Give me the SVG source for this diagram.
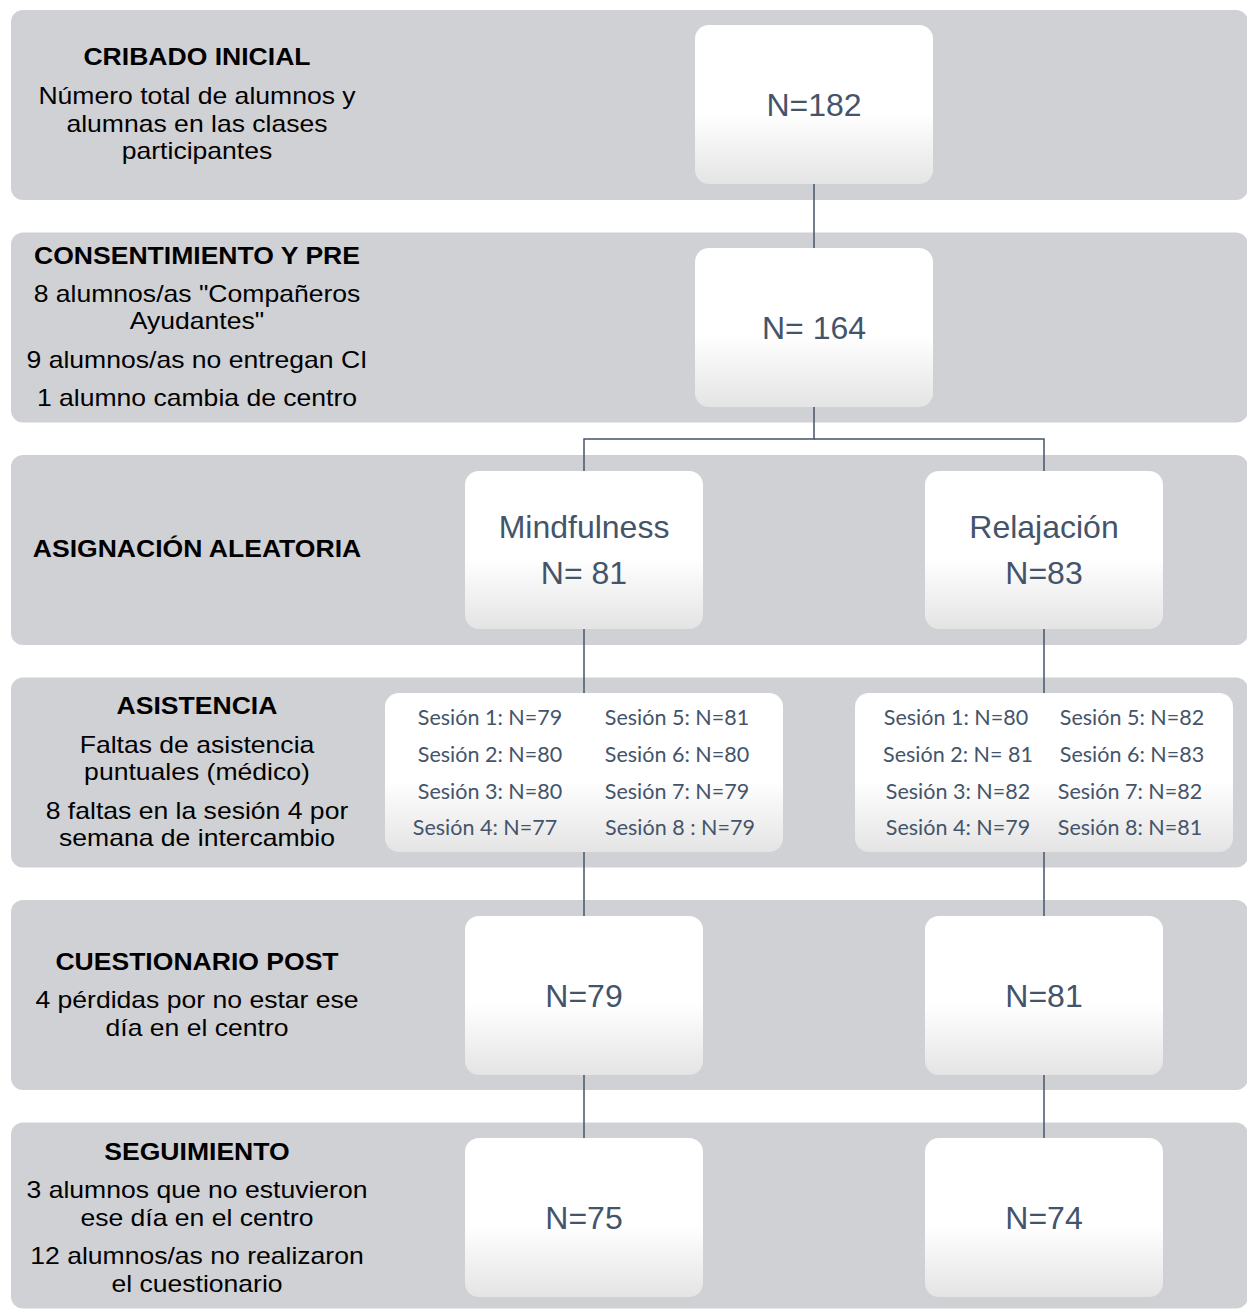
<svg xmlns="http://www.w3.org/2000/svg" width="1247" height="1310" viewBox="0 0 1247 1310">
  <defs>
    <linearGradient id="boxFill" x1="0" y1="0" x2="0" y2="1">
      <stop offset="0" stop-color="#FFFFFF"/>
      <stop offset="0.55" stop-color="#FFFFFF"/>
      <stop offset="1" stop-color="#E4E4E5"/>
    </linearGradient>
    <style>
      .band { fill: #D0D1D5; }
      .box { fill: url(#boxFill); }
      .lbl { font-family: "Liberation Sans", Arial, sans-serif; font-size: 23px; fill: #000000; text-anchor: middle; }
      .hd { font-weight: bold; }
      .n { font-family: "Liberation Sans", Arial, sans-serif; font-size: 32px; fill: #44546A; text-anchor: middle; }
      .s { font-family: Lato, "Noto Sans", sans-serif; font-size: 21.5px; fill: #44546A; text-anchor: middle; }
      .link { stroke: #44546A; stroke-width: 1.5; fill: none; }
    </style>
  </defs>

  <rect width="1247" height="1310" fill="#FFFFFF"/>

  <!-- stage bands -->
  <g id="bands">
    <rect class="band" x="11" y="10" width="1237" height="190" rx="12"/>
    <rect class="band" x="11" y="232.5" width="1237" height="190" rx="12"/>
    <rect class="band" x="11" y="455" width="1237" height="190" rx="12"/>
    <rect class="band" x="11" y="677.5" width="1237" height="190" rx="12"/>
    <rect class="band" x="11" y="900" width="1237" height="190" rx="12"/>
    <rect class="band" x="11" y="1122.5" width="1237" height="186" rx="12"/>
  </g>

  <!-- stage descriptions -->
  <g id="stage-labels" transform="translate(197,0) scale(1.155,1) translate(-197,0)">
    <text class="lbl hd" x="197" y="65">CRIBADO INICIAL</text>
    <text class="lbl" x="197" y="104">Número total de alumnos y</text>
    <text class="lbl" x="197" y="132">alumnas en las clases</text>
    <text class="lbl" x="197" y="159">participantes</text>

    <text class="lbl hd" x="197" y="264">CONSENTIMIENTO Y PRE</text>
    <text class="lbl" x="197" y="302">8 alumnos/as "Compañeros</text>
    <text class="lbl" x="197" y="329">Ayudantes"</text>
    <text class="lbl" x="197" y="368">9 alumnos/as no entregan CI</text>
    <text class="lbl" x="197" y="406">1 alumno cambia de centro</text>

    <text class="lbl hd" x="197" y="557">ASIGNACIÓN ALEATORIA</text>

    <text class="lbl hd" x="197" y="714">ASISTENCIA</text>
    <text class="lbl" x="197" y="753">Faltas de asistencia</text>
    <text class="lbl" x="197" y="780">puntuales (médico)</text>
    <text class="lbl" x="197" y="819">8 faltas en la sesión 4 por</text>
    <text class="lbl" x="197" y="846">semana de intercambio</text>

    <text class="lbl hd" x="197" y="970">CUESTIONARIO POST</text>
    <text class="lbl" x="197" y="1008">4 pérdidas por no estar ese</text>
    <text class="lbl" x="197" y="1036">día en el centro</text>

    <text class="lbl hd" x="197" y="1160">SEGUIMIENTO</text>
    <text class="lbl" x="197" y="1198">3 alumnos que no estuvieron</text>
    <text class="lbl" x="197" y="1226">ese día en el centro</text>
    <text class="lbl" x="197" y="1264">12 alumnos/as no realizaron</text>
    <text class="lbl" x="197" y="1292">el cuestionario</text>
  </g>

  <!-- connectors -->
  <g id="connectors">
    <line class="link" x1="814" y1="184" x2="814" y2="248"/>
    <polyline class="link" points="814,407 814,439 584,439 584,471"/>
    <polyline class="link" points="814,439 1044,439 1044,471"/>
    <line class="link" x1="584" y1="629" x2="584" y2="693"/>
    <line class="link" x1="584" y1="852" x2="584" y2="916"/>
    <line class="link" x1="584" y1="1075" x2="584" y2="1138"/>
    <line class="link" x1="1044" y1="629" x2="1044" y2="693"/>
    <line class="link" x1="1044" y1="852" x2="1044" y2="916"/>
    <line class="link" x1="1044" y1="1075" x2="1044" y2="1138"/>
  </g>

  <g id="total">
    <rect class="box" x="695" y="25" width="238" height="159" rx="14"/>
    <text class="n" x="814" y="116">N=182</text>
  </g>

  <g id="consent">
    <rect class="box" x="695" y="248" width="238" height="159" rx="14"/>
    <text class="n" x="814" y="339">N= 164</text>
  </g>

  <g id="mindfulness">
    <rect class="box" x="465" y="471" width="238" height="158" rx="14"/>
    <text class="n" x="584" y="538">Mindfulness</text>
    <text class="n" x="584" y="584">N= 81</text>
  </g>

  <g id="relajacion">
    <rect class="box" x="925" y="471" width="238" height="158" rx="14"/>
    <text class="n" x="1044" y="538">Relajación</text>
    <text class="n" x="1044" y="584">N=83</text>
  </g>

  <g id="sessions-mindfulness">
    <rect class="box" x="385" y="693" width="398" height="159" rx="14"/>
    <text class="s" x="490" y="725">Sesión 1: N=79</text>
    <text class="s" x="490" y="762">Sesión 2: N=80</text>
    <text class="s" x="490" y="799">Sesión 3: N=80</text>
    <text class="s" x="485" y="835">Sesión 4: N=77</text>
    <text class="s" x="677" y="725">Sesión 5: N=81</text>
    <text class="s" x="677" y="762">Sesión 6: N=80</text>
    <text class="s" x="677" y="799">Sesión 7: N=79</text>
    <text class="s" x="680" y="835">Sesión 8 : N=79</text>
  </g>

  <g id="sessions-relajacion">
    <rect class="box" x="855" y="693" width="378" height="159" rx="14"/>
    <text class="s" x="956" y="725">Sesión 1: N=80</text>
    <text class="s" x="958" y="762">Sesión 2: N= 81</text>
    <text class="s" x="958" y="799">Sesión 3: N=82</text>
    <text class="s" x="958" y="835">Sesión 4: N=79</text>
    <text class="s" x="1132" y="725">Sesión 5: N=82</text>
    <text class="s" x="1132" y="762">Sesión 6: N=83</text>
    <text class="s" x="1130" y="799">Sesión 7: N=82</text>
    <text class="s" x="1130" y="835">Sesión 8: N=81</text>
  </g>

  <g id="post-mindfulness">
    <rect class="box" x="465" y="916" width="238" height="159" rx="14"/>
    <text class="n" x="584" y="1007">N=79</text>
  </g>

  <g id="post-relajacion">
    <rect class="box" x="925" y="916" width="238" height="159" rx="14"/>
    <text class="n" x="1044" y="1007">N=81</text>
  </g>

  <g id="follow-mindfulness">
    <rect class="box" x="465" y="1138" width="238" height="159" rx="14"/>
    <text class="n" x="584" y="1229">N=75</text>
  </g>

  <g id="follow-relajacion">
    <rect class="box" x="925" y="1138" width="238" height="159" rx="14"/>
    <text class="n" x="1044" y="1229">N=74</text>
  </g>
</svg>
